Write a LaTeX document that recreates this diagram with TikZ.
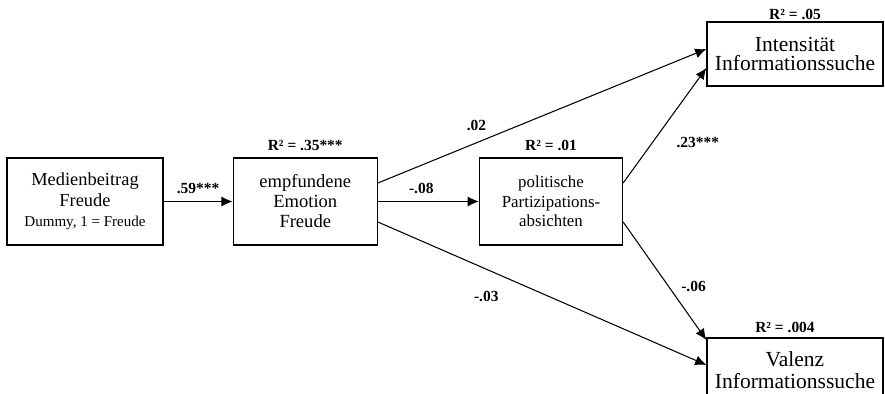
\documentclass[tikz,border=0pt]{standalone}
\usepackage{fontspec}
\setmainfont{Liberation Serif}
\usetikzlibrary{arrows.meta,positioning}

\begin{document}
\begin{tikzpicture}[>={Latex[length=2.8mm,width=2.5mm]}, line width=0.75pt,
  box/.style={draw,line width=0.9pt,align=center,minimum height=2.175cm},
  coef/.style={font=\fontsize{11}{13}\selectfont\bfseries,inner sep=2pt}]
\clip (0,0) rectangle (22.125,-9.85);
\node (med) [box,minimum width=3.9cm,font=\fontsize{13.1}{14.6}\selectfont] at (2.125,-5.0375) {Medienbeitrag\\Freude\\{\fontsize{10.7}{13}\selectfont Dummy, 1 = Freude}};
\node (emo) [box,right=1.725cm of med,minimum width=3.6cm,font=\fontsize{13.2}{14.2}\selectfont] {empfundene\\Emotion\\Freude};
\node (part) [box,right=2.525cm of emo,minimum width=3.575cm,font=\fontsize{12}{13.8}\selectfont] {politische\\Partizipations-\\absichten};
\node (int) [box,minimum width=4.4cm,minimum height=1.6cm,font=\fontsize{15.3}{14.2}\selectfont] at (19.875,-1.35) {Intensität\\Informationssuche};
\node (val) [box,minimum width=4.4cm,minimum height=1.6cm,font=\fontsize{15.3}{15.5}\selectfont] at (19.875,-9.25) {Valenz\\Informationssuche};
% R-Quadrat
\node (r2emo) [coef,above=2pt of emo] {R² = .35***};
\node (r2part) [coef,above=2pt of part] {R² = .01};
\node (r2int) [coef,above=-1pt of int] {R² = .05};
\node (r2val) [coef,above=1pt of val,xshift=-0.25cm] {R² = .004};
% Pfade
\draw[->] (med) -- node[coef,above=3pt]{.59***} (emo);
\draw[->] (emo) -- node[coef,pos=0.43,above=3pt]{-.08} (part);
\draw[->] ([yshift=0.4625cm]emo.east) -- node[coef,pos=0.3,above=6pt]{.02} ([yshift=0.125cm]int.west);
\draw[->] ([yshift=-0.5125cm]emo.east) -- node[coef,pos=0.33,below=0.475cm]{-.03} ([yshift=0.125cm]val.west);
\draw[->] ([yshift=0.4625cm]part.east) -- node[coef,pos=0.35,right=0.525cm]{.23***} ([yshift=-0.35cm]int.west);
\draw[->] ([yshift=-0.5125cm]part.east) -- node[coef,pos=0.55,right=0.225cm]{-.06} ([yshift=0.75cm]val.west);
\end{tikzpicture}
\end{document}
